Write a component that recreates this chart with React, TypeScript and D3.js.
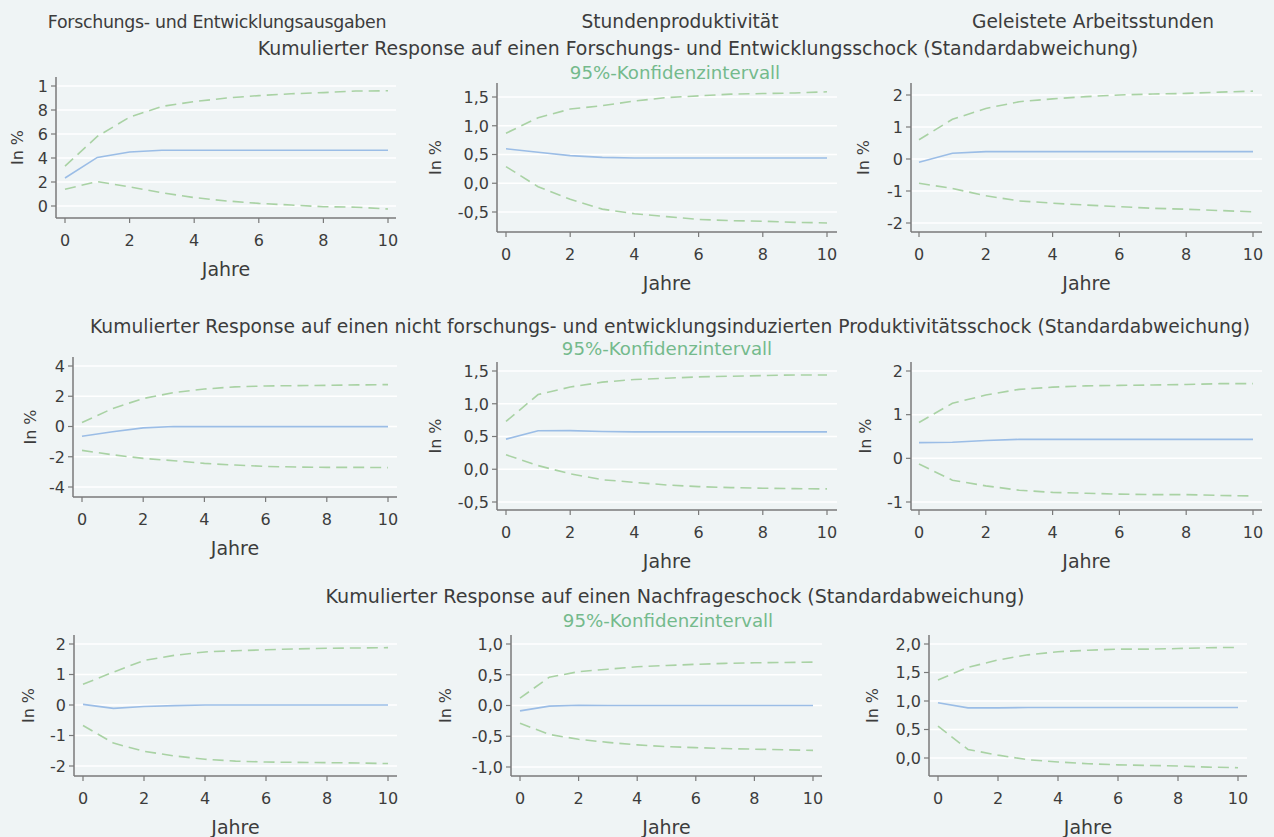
import React, { useEffect, useRef } from 'react';
import * as d3 from 'd3';

// Jahre nach dem Schock
const years = [0, 1, 2, 3, 4, 5, 6, 7, 8, 9, 10];

const colTitles = ['Forschungs- und Entwicklungsausgaben', 'Stundenproduktivität', 'Geleistete Arbeitsstunden'];
const rowTitles = [
  'Kumulierter Response auf einen Forschungs- und Entwicklungsschock (Standardabweichung)',
  'Kumulierter Response auf einen nicht forschungs- und entwicklungsinduzierten Produktivitätsschock (Standardabweichung)',
  'Kumulierter Response auf einen Nachfrageschock (Standardabweichung)'
];
const ciLabel = '95%-Konfidenzintervall';

// Schock: Forschung und Entwicklung
const rdExpRdMid = [2.33, 4.05, 4.5, 4.65, 4.65, 4.65, 4.65, 4.65, 4.65, 4.65, 4.65];
const rdExpRdUp = [3.33, 5.8, 7.4, 8.3, 8.7, 9.0, 9.2, 9.35, 9.45, 9.58, 9.6];
const rdExpRdLo = [1.4, 2.03, 1.6, 1.1, 0.7, 0.42, 0.22, 0.08, -0.06, -0.1, -0.25];
const prodRdMid = [0.6, 0.54, 0.48, 0.45, 0.44, 0.44, 0.44, 0.44, 0.44, 0.44, 0.44];
const prodRdUp = [0.87, 1.14, 1.29, 1.35, 1.43, 1.49, 1.52, 1.55, 1.56, 1.57, 1.59];
const prodRdLo = [0.29, -0.06, -0.28, -0.45, -0.53, -0.58, -0.63, -0.65, -0.66, -0.68, -0.69];
const hoursRdMid = [-0.1, 0.18, 0.23, 0.23, 0.23, 0.23, 0.23, 0.23, 0.23, 0.23, 0.23];
const hoursRdUp = [0.6, 1.24, 1.58, 1.79, 1.88, 1.95, 2.0, 2.03, 2.05, 2.09, 2.12];
const hoursRdLo = [-0.76, -0.92, -1.15, -1.31, -1.38, -1.44, -1.49, -1.54, -1.57, -1.61, -1.65];

// Schock: nicht F&E-induzierte Produktivität
const rdExpPrMid = [-0.64, -0.35, -0.09, 0, -0.01, -0.01, -0.01, -0.01, -0.01, -0.01, -0.01];
const rdExpPrUp = [0.26, 1.19, 1.85, 2.24, 2.48, 2.62, 2.68, 2.7, 2.72, 2.75, 2.77];
const rdExpPrLo = [-1.58, -1.87, -2.11, -2.26, -2.44, -2.55, -2.64, -2.68, -2.7, -2.7, -2.72];
const prodPrMid = [0.46, 0.587, 0.59, 0.577, 0.57, 0.57, 0.57, 0.57, 0.57, 0.57, 0.57];
const prodPrUp = [0.73, 1.14, 1.255, 1.33, 1.37, 1.39, 1.41, 1.42, 1.43, 1.44, 1.44];
const prodPrLo = [0.22, 0.056, -0.07, -0.16, -0.2, -0.24, -0.265, -0.28, -0.29, -0.296, -0.3];
const hoursPrMid = [0.36, 0.37, 0.41, 0.435, 0.435, 0.435, 0.435, 0.435, 0.435, 0.435, 0.435];
const hoursPrUp = [0.82, 1.26, 1.45, 1.58, 1.63, 1.66, 1.67, 1.68, 1.69, 1.71, 1.71];
const hoursPrLo = [-0.13, -0.5, -0.63, -0.73, -0.78, -0.8, -0.82, -0.83, -0.83, -0.85, -0.86];

// Schock: Nachfrage
const rdExpDmMid = [0.02, -0.11, -0.05, -0.02, 0, 0, 0, 0, 0, 0, 0];
const rdExpDmUp = [0.68, 1.08, 1.46, 1.63, 1.74, 1.78, 1.81, 1.84, 1.86, 1.87, 1.88];
const rdExpDmLo = [-0.67, -1.25, -1.52, -1.67, -1.78, -1.84, -1.87, -1.88, -1.89, -1.9, -1.92];
const prodDmMid = [-0.087, -0.01, 0.005, 0, 0, 0, 0, 0, 0, 0, 0];
const prodDmUp = [0.12, 0.46, 0.55, 0.59, 0.63, 0.65, 0.67, 0.685, 0.695, 0.7, 0.705];
const prodDmLo = [-0.29, -0.47, -0.55, -0.6, -0.64, -0.67, -0.685, -0.7, -0.71, -0.72, -0.73];
const hoursDmMid = [0.97, 0.88, 0.88, 0.885, 0.885, 0.885, 0.885, 0.885, 0.885, 0.885, 0.885];
const hoursDmUp = [1.37, 1.59, 1.72, 1.81, 1.865, 1.89, 1.91, 1.91, 1.92, 1.935, 1.94];
const hoursDmLo = [0.56, 0.15, 0.05, -0.03, -0.07, -0.1, -0.12, -0.13, -0.14, -0.16, -0.17];

// y-Achsen-Ticks
const ticksRdExpRd = [0, 2, 4, 6, 8, 10];
const ticksHalf = [-0.5, 0, 0.5, 1, 1.5];
const ticksHoursRd = [-2, -1, 0, 1, 2];
const ticksRdExpPr = [-4, -2, 0, 2, 4];
const ticksHoursPr = [-1, 0, 1, 2];
const ticksRdExpDm = [-2, -1, 0, 1, 2];
const ticksProdDm = [-1, -0.5, 0, 0.5, 1];
const ticksHoursDm = [0, 0.5, 1, 1.5, 2];

const de = d3.formatLocale({ decimal: ',', thousands: '.', grouping: [3], currency: ['', ' €'], minus: '-' });
const fmtInt = de.format('d');
const fmtDec = de.format('.1f');

// frame: axis x, right end, top, bottom, px of year 0 and 10, px of first/last tick, label x
const panels = [
  { mid: rdExpRdMid, up: rdExpRdUp, lo: rdExpRdLo, ticks: ticksRdExpRd, fmt: (d: number) => (d === 10 ? '1' : fmtInt(d)), ax: 56, xr: 396, top: 77, bot: 218, x0: 65, x1: 388, py0: 206, py1: 86, lx: 17 },
  { mid: prodRdMid, up: prodRdUp, lo: prodRdLo, ticks: ticksHalf, fmt: fmtDec, ax: 497, xr: 837, top: 83, bot: 232, x0: 506, x1: 827, py0: 212, py1: 97, lx: 435 },
  { mid: hoursRdMid, up: hoursRdUp, lo: hoursRdLo, ticks: ticksHoursRd, fmt: fmtInt, ax: 911, xr: 1262, top: 83, bot: 232, x0: 919, x1: 1253, py0: 223, py1: 95, lx: 863 },
  { mid: rdExpPrMid, up: rdExpPrUp, lo: rdExpPrLo, ticks: ticksRdExpPr, fmt: fmtInt, ax: 73, xr: 397, top: 357, bot: 497, x0: 82, x1: 388, py0: 487, py1: 366, lx: 30 },
  { mid: prodPrMid, up: prodPrUp, lo: prodPrLo, ticks: ticksHalf, fmt: fmtDec, ax: 497, xr: 837, top: 362, bot: 510, x0: 506, x1: 827, py0: 502, py1: 371, lx: 435 },
  { mid: hoursPrMid, up: hoursPrUp, lo: hoursPrLo, ticks: ticksHoursPr, fmt: fmtInt, ax: 911, xr: 1262, top: 362, bot: 510, x0: 919, x1: 1253, py0: 502, py1: 371, lx: 865 },
  { mid: rdExpDmMid, up: rdExpDmUp, lo: rdExpDmLo, ticks: ticksRdExpDm, fmt: fmtInt, ax: 74, xr: 397, top: 635, bot: 776, x0: 83, x1: 388, py0: 766, py1: 644, lx: 28 },
  { mid: prodDmMid, up: prodDmUp, lo: prodDmLo, ticks: ticksProdDm, fmt: fmtDec, ax: 511, xr: 822, top: 635, bot: 776, x0: 520, x1: 813, py0: 767, py1: 644, lx: 445 },
  { mid: hoursDmMid, up: hoursDmUp, lo: hoursDmLo, ticks: ticksHoursDm, fmt: fmtDec, ax: 929, xr: 1247, top: 635, bot: 776, x0: 938, x1: 1238, py0: 758, py1: 644, lx: 872 }
];

const font = "'Century Gothic', 'DejaVu Sans', sans-serif";
const bg = '#eff4f5';
const textCol = '#3c3c3c';
const axisCol = '#7a7a7a';
const blue = '#9bbde6';
const green = '#a9d2a4';
const greenText = '#74ba8c';

export default function App() {
  const ref = useRef<SVGSVGElement>(null);

  useEffect(() => {
    document.body.style.margin = '0';
    const svg = d3.select(ref.current);
    svg.selectAll('*').remove();

    svg.append('rect').attr('width', 1274).attr('height', 837).attr('fill', bg);

    // titles
    const colX = [217, 680, 1093];
    const colSize = [17.4, 18.6, 18.6];
    const colSpacing = [-0.3, 0, 0];
    colTitles.forEach((t, i) => {
      svg.append('text').attr('x', colX[i]).attr('y', 28).attr('text-anchor', 'middle')
        .attr('font-size', colSize[i]).attr('letter-spacing', colSpacing[i])
        .attr('fill', textCol).text(t);
    });
    const rowY = [55, 333, 603];
    const rowX = [698, 670, 675];
    const rowSize = [18.9, 18.7, 19.1];
    const ciY = [79, 355, 627];
    const ciX = [675, 667, 668];
    rowTitles.forEach((t, i) => {
      svg.append('text').attr('x', rowX[i]).attr('y', rowY[i]).attr('text-anchor', 'middle')
        .attr('font-size', rowSize[i]).attr('fill', textCol).text(t);
      svg.append('text').attr('x', ciX[i]).attr('y', ciY[i]).attr('text-anchor', 'middle')
        .attr('font-size', 18.2).attr('fill', greenText).text(ciLabel);
    });

    panels.forEach(p => {
      const x = d3.scaleLinear().domain([0, 10]).range([p.x0, p.x1]);
      const y = d3.scaleLinear().domain([p.ticks[0], p.ticks[p.ticks.length - 1]]).range([p.py0, p.py1]);
      const g = svg.append('g').attr('font-family', font);

      // grid
      g.selectAll('line.grid').data(p.ticks).enter().append('line')
        .attr('x1', p.ax).attr('x2', p.xr)
        .attr('y1', d => y(d)).attr('y2', d => y(d))
        .attr('stroke', '#ffffff').attr('stroke-width', 1.5);

      // y axis
      g.append('line').attr('x1', p.ax).attr('x2', p.ax).attr('y1', p.top).attr('y2', p.bot)
        .attr('stroke', axisCol).attr('stroke-width', 1.5);
      g.selectAll('line.yt').data(p.ticks).enter().append('line')
        .attr('x1', p.ax - 5).attr('x2', p.ax).attr('y1', d => y(d)).attr('y2', d => y(d))
        .attr('stroke', axisCol).attr('stroke-width', 1.2);
      g.selectAll('text.yl').data(p.ticks).enter().append('text')
        .attr('x', p.ax - 8).attr('y', d => y(d)).attr('dy', '0.36em')
        .attr('text-anchor', 'end').attr('font-size', 16).attr('fill', textCol)
        .text(d => p.fmt(d));

      // x axis
      const xt = x.ticks(5);
      g.append('line').attr('x1', p.ax).attr('x2', p.xr).attr('y1', p.bot).attr('y2', p.bot)
        .attr('stroke', axisCol).attr('stroke-width', 1.5);
      g.selectAll('line.xt').data(xt).enter().append('line')
        .attr('x1', d => x(d)).attr('x2', d => x(d)).attr('y1', p.bot).attr('y2', p.bot + 5)
        .attr('stroke', axisCol).attr('stroke-width', 1.2);
      g.selectAll('text.xl').data(xt).enter().append('text')
        .attr('x', d => x(d)).attr('y', p.bot + 28).attr('text-anchor', 'middle')
        .attr('font-size', 16).attr('fill', textCol).text(d => fmtInt(d));
      g.append('text').attr('x', (p.ax + p.xr) / 2).attr('y', p.bot + 58).attr('text-anchor', 'middle')
        .attr('font-size', 19).attr('fill', textCol).text('Jahre');

      // y label
      const cy = (p.top + p.bot) / 2;
      g.append('text').attr('transform', `translate(${p.lx + 6},${cy}) rotate(-90)`)
        .attr('text-anchor', 'middle').attr('font-size', 16).attr('fill', textCol).text('In %');

      const line = d3.line<number>().x((_, i) => x(years[i])).y(d => y(d));
      [p.up, p.lo].forEach(s => {
        g.append('path').attr('d', line(s)).attr('fill', 'none')
          .attr('stroke', green).attr('stroke-width', 1.6).attr('stroke-dasharray', '11,6');
      });
      g.append('path').attr('d', line(p.mid)).attr('fill', 'none')
        .attr('stroke', blue).attr('stroke-width', 1.6);
    });

    svg.selectAll('text').attr('font-family', font);
  }, []);

  return (
    <svg ref={ref} width={1274} height={837} style={{ display: 'block' }} />
  );
}
